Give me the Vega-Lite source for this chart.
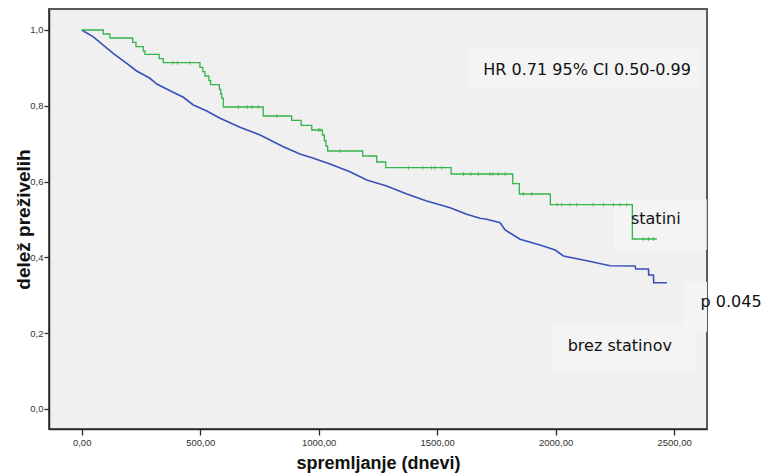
{
  "$schema": "https://vega.github.io/schema/vega-lite/v6.json",
  "width": 658,
  "height": 420,
  "autosize": {"type": "none"},
  "padding": {"left": 49, "top": 9, "right": 56, "bottom": 46},
  "background": "#ffffff",
  "config": {
    "view": {"fill": "#f0f0f0", "stroke": "#5a5a5a", "strokeWidth": 2},
    "axis": {
      "grid": false,
      "domainColor": "#2b2b2b",
      "domainWidth": 1.5,
      "tickColor": "#2b2b2b",
      "tickWidth": 1.3,
      "labelFont": "Liberation Sans",
      "labelFontSize": 9.5,
      "labelColor": "#333333",
      "titleFont": "Liberation Sans",
      "titleFontWeight": "bold",
      "titleColor": "#111111"
    }
  },
  "datasets": {
    "curves": [
      {"group": "brez statinov", "day": 0, "surv": 1.0},
      {"group": "brez statinov", "day": 49, "surv": 0.982},
      {"group": "brez statinov", "day": 133, "surv": 0.9385},
      {"group": "brez statinov", "day": 190, "surv": 0.9121},
      {"group": "brez statinov", "day": 232, "surv": 0.8918},
      {"group": "brez statinov", "day": 288, "surv": 0.8726},
      {"group": "brez statinov", "day": 317, "surv": 0.8575},
      {"group": "brez statinov", "day": 373, "surv": 0.8398},
      {"group": "brez statinov", "day": 429, "surv": 0.8224},
      {"group": "brez statinov", "day": 471, "surv": 0.8021},
      {"group": "brez statinov", "day": 528, "surv": 0.7863},
      {"group": "brez statinov", "day": 584, "surv": 0.767},
      {"group": "brez statinov", "day": 668, "surv": 0.7433},
      {"group": "brez statinov", "day": 753, "surv": 0.723},
      {"group": "brez statinov", "day": 851, "surv": 0.6921},
      {"group": "brez statinov", "day": 921, "surv": 0.6728},
      {"group": "brez statinov", "day": 978, "surv": 0.6615},
      {"group": "brez statinov", "day": 1048, "surv": 0.6464},
      {"group": "brez statinov", "day": 1132, "surv": 0.6261},
      {"group": "brez statinov", "day": 1203, "surv": 0.6042},
      {"group": "brez statinov", "day": 1287, "surv": 0.5884},
      {"group": "brez statinov", "day": 1372, "surv": 0.5673},
      {"group": "brez statinov", "day": 1456, "surv": 0.5488},
      {"group": "brez statinov", "day": 1555, "surv": 0.5311},
      {"group": "brez statinov", "day": 1625, "surv": 0.5137},
      {"group": "brez statinov", "day": 1681, "surv": 0.5032},
      {"group": "brez statinov", "day": 1709, "surv": 0.5005},
      {"group": "brez statinov", "day": 1766, "surv": 0.4916},
      {"group": "brez statinov", "day": 1787, "surv": 0.4723},
      {"group": "brez statinov", "day": 1850, "surv": 0.4478},
      {"group": "brez statinov", "day": 1934, "surv": 0.4327},
      {"group": "brez statinov", "day": 1998, "surv": 0.4195},
      {"group": "brez statinov", "day": 2033, "surv": 0.4037},
      {"group": "brez statinov", "day": 2132, "surv": 0.3913},
      {"group": "brez statinov", "day": 2230, "surv": 0.3781},
      {"group": "brez statinov", "day": 2335, "surv": 0.3773},
      {"group": "brez statinov", "day": 2339, "surv": 0.3694},
      {"group": "brez statinov", "day": 2392, "surv": 0.3694},
      {"group": "brez statinov", "day": 2393, "surv": 0.3536},
      {"group": "brez statinov", "day": 2413, "surv": 0.3536},
      {"group": "brez statinov", "day": 2414, "surv": 0.3332},
      {"group": "brez statinov", "day": 2470, "surv": 0.3332}
    ],
    "statini": [
      {"day": 0, "surv": 1.0},
      {"day": 91, "surv": 0.9894},
      {"day": 119, "surv": 0.9789},
      {"day": 215, "surv": 0.9675},
      {"day": 229, "surv": 0.9559},
      {"day": 260, "surv": 0.9446},
      {"day": 267, "surv": 0.9359},
      {"day": 327, "surv": 0.9243},
      {"day": 344, "surv": 0.9137},
      {"day": 499, "surv": 0.9016},
      {"day": 511, "surv": 0.89},
      {"day": 520, "surv": 0.8786},
      {"day": 537, "surv": 0.8662},
      {"day": 544, "surv": 0.8557},
      {"day": 581, "surv": 0.8435},
      {"day": 587, "surv": 0.8311},
      {"day": 591, "surv": 0.8198},
      {"day": 598, "surv": 0.7968},
      {"day": 766, "surv": 0.7731},
      {"day": 886, "surv": 0.7617},
      {"day": 926, "surv": 0.7485},
      {"day": 971, "surv": 0.7361},
      {"day": 1016, "surv": 0.723},
      {"day": 1024, "surv": 0.7079},
      {"day": 1031, "surv": 0.6939},
      {"day": 1038, "surv": 0.6807},
      {"day": 1186, "surv": 0.6675},
      {"day": 1245, "surv": 0.6517},
      {"day": 1283, "surv": 0.6367},
      {"day": 1559, "surv": 0.6201},
      {"day": 1819, "surv": 0.5945},
      {"day": 1847, "surv": 0.5673},
      {"day": 1978, "surv": 0.5391},
      {"day": 2324, "surv": 0.4485},
      {"day": 2427, "surv": 0.4485}
    ],
    "censored": [
      {"day": 384, "surv": 0.9137}, {"day": 404, "surv": 0.9137}, {"day": 457, "surv": 0.9137},
      {"day": 661, "surv": 0.7968}, {"day": 699, "surv": 0.7968}, {"day": 718, "surv": 0.7968}, {"day": 745, "surv": 0.7968},
      {"day": 823, "surv": 0.7731},
      {"day": 999, "surv": 0.7361}, {"day": 1006, "surv": 0.7361},
      {"day": 1090, "surv": 0.6807},
      {"day": 1379, "surv": 0.6367}, {"day": 1439, "surv": 0.6367}, {"day": 1477, "surv": 0.6367}, {"day": 1491, "surv": 0.6367}, {"day": 1519, "surv": 0.6367},
      {"day": 1611, "surv": 0.6201}, {"day": 1642, "surv": 0.6201}, {"day": 1674, "surv": 0.6201}, {"day": 1723, "surv": 0.6201}, {"day": 1735, "surv": 0.6201}, {"day": 1758, "surv": 0.6201}, {"day": 1787, "surv": 0.6201},
      {"day": 1864, "surv": 0.5673}, {"day": 1899, "surv": 0.5673},
      {"day": 2007, "surv": 0.5391}, {"day": 2026, "surv": 0.5391}, {"day": 2061, "surv": 0.5391}, {"day": 2089, "surv": 0.5391}, {"day": 2159, "surv": 0.5391}, {"day": 2202, "surv": 0.5391}, {"day": 2244, "surv": 0.5391}, {"day": 2272, "surv": 0.5391}, {"day": 2300, "surv": 0.5391},
      {"day": 2370, "surv": 0.4485}, {"day": 2392, "surv": 0.4485}, {"day": 2413, "surv": 0.4485}
    ],
    "notes": [
      {"label": "HR 0.71 95% CI 0.50-0.99", "x": 1695, "y": 0.8813, "bx": 1625, "bx2": 2610, "by": 0.949, "by2": 0.8504},
      {"label": "statini", "x": 2318, "y": 0.4881, "bx": 2248, "bx2": 2638, "by": 0.5533, "by2": 0.4195},
      {"label": "p 0.045", "x": 2612, "y": 0.2699, "bx": 2539, "bx2": 2639, "by": 0.3359, "by2": 0.204},
      {"label": "brez statinov", "x": 2051, "y": 0.153, "bx": 1984, "bx2": 2588, "by": 0.2216, "by2": 0.1029}
    ]
  },
  "encoding": {
    "x": {
      "field": "day",
      "type": "quantitative",
      "scale": {"domain": [-138, 2639], "nice": false, "zero": false},
      "axis": {
        "values": [0, 500, 1000, 1500, 2000, 2500],
        "labelExpr": "replace(format(datum.value, '.2f'), '.', ',')",
        "tickSize": 6,
        "labelPadding": 2,
        "title": "spremljanje (dnevi)",
        "titleFontSize": 18,
        "titlePadding": 8
      }
    },
    "y": {
      "field": "surv",
      "type": "quantitative",
      "scale": {"domain": [-0.0528, 1.0554], "nice": false, "zero": false},
      "axis": {
        "values": [0, 0.2, 0.4, 0.6, 0.8, 1.0],
        "labelExpr": "replace(format(datum.value, '.1f'), '.', ',')",
        "tickSize": 5,
        "labelPadding": 1,
        "title": "delež preživelih",
        "titleFontSize": 19,
        "titlePadding": -4
      }
    }
  },
  "layer": [
    {
      "data": {"name": "notes"},
      "mark": {"type": "rect", "fill": "#f4f4f4"},
      "encoding": {
        "x": {"field": "bx", "type": "quantitative"},
        "x2": {"field": "bx2"},
        "y": {"field": "by", "type": "quantitative"},
        "y2": {"field": "by2"}
      }
    },
    {
      "data": {"name": "curves"},
      "mark": {"type": "line", "color": "#3b4fb8", "strokeWidth": 1.6, "interpolate": "linear"},
      "encoding": {}
    },
    {
      "data": {"name": "statini"},
      "mark": {"type": "line", "color": "#35b44a", "strokeWidth": 1.3, "interpolate": "step-after"},
      "encoding": {}
    },
    {
      "data": {"name": "censored"},
      "mark": {"type": "tick", "orient": "vertical", "color": "#35b44a", "size": 4, "thickness": 1},
      "encoding": {}
    },
    {
      "data": {"name": "notes"},
      "mark": {"type": "text", "align": "left", "baseline": "alphabetic", "font": "DejaVu Sans", "fontSize": 16, "color": "#111111"},
      "encoding": {
        "x": {"field": "x", "type": "quantitative"},
        "y": {"field": "y", "type": "quantitative"},
        "text": {"field": "label"}
      }
    }
  ]
}
